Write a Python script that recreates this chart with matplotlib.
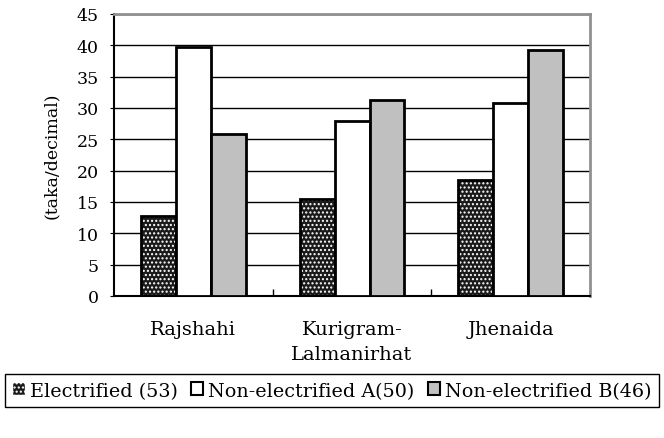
import numpy as np
import matplotlib
matplotlib.use("Agg")
import matplotlib.pyplot as plt
from matplotlib.patches import Patch

# ---- data ----
regions = ["Rajshahi", "Kurigram-\nLalmanirhat", "Jhenaida"]
electrified = [12.8, 15.5, 18.5]
non_elec_a = [39.8, 27.9, 30.8]
non_elec_b = [25.8, 31.3, 39.3]
series_labels = ["Electrified (53)", "Non-electrified A(50)", "Non-electrified B(46)"]
y_ticks = list(range(0, 50, 5))

plt.rcParams["font.family"] = ["DejaVu Serif"]
plt.rcParams["font.size"] = 12.5

fig = plt.figure(figsize=(6.64, 4.39), dpi=100)
ax = fig.add_axes([0.1717, 0.3235, 0.717, 0.6424])

x = np.arange(len(regions))
w = 0.22

# electrified: black with white dots, then black outline on top
ax.bar(x - w, electrified, w, color="#1a1a1a", edgecolor="white", hatch="....",
       linewidth=0, zorder=2)
ax.bar(x - w, electrified, w, fill=False, edgecolor="black", linewidth=2, zorder=3)
ax.bar(x, non_elec_a, w, color="white", edgecolor="black", linewidth=2, zorder=3)
ax.bar(x + w, non_elec_b, w, color="#c0c0c0", edgecolor="black", linewidth=2, zorder=3)

ax.set_xlim(-0.5, len(regions) - 0.5)
ax.set_ylim(0, 45)
ax.set_yticks(y_ticks)
ax.yaxis.grid(True, color="black", linewidth=1)
ax.set_axisbelow(True)

ax.set_xticks(x)
ax.set_xticklabels(regions, linespacing=1.55, fontsize=14)
ax.tick_params(axis="x", which="major", length=0, pad=17)
ax.set_xticks(np.arange(0.5, len(regions) - 0.5, 1), minor=True)
ax.tick_params(axis="x", which="minor", direction="in", length=5, width=1)
ax.tick_params(axis="y", direction="out", length=3, pad=8)

ax.set_ylabel("(taka/decimal)", labelpad=12)

for s in ["top", "right"]:
    ax.spines[s].set_color("#909090")
    ax.spines[s].set_linewidth(2)
for s in ["left", "bottom"]:
    ax.spines[s].set_color("black")
    ax.spines[s].set_linewidth(1.5)

handles = [
    Patch(facecolor="#1a1a1a", edgecolor="white", hatch="...."),
    Patch(facecolor="white", edgecolor="black", linewidth=1.5),
    Patch(facecolor="#c0c0c0", edgecolor="black", linewidth=1.5),
]
leg = fig.legend(handles, series_labels, ncol=3, loc="center",
                 bbox_to_anchor=(0.5, 0.108), fancybox=False, framealpha=1,
                 edgecolor="black", handlelength=0.65, handleheight=0.65,
                 handletextpad=0.25, columnspacing=0.7, borderpad=0.4,
                 borderaxespad=0, fontsize=13.8)
leg.get_frame().set_linewidth(1)

fig.savefig("out.png", dpi=100)
